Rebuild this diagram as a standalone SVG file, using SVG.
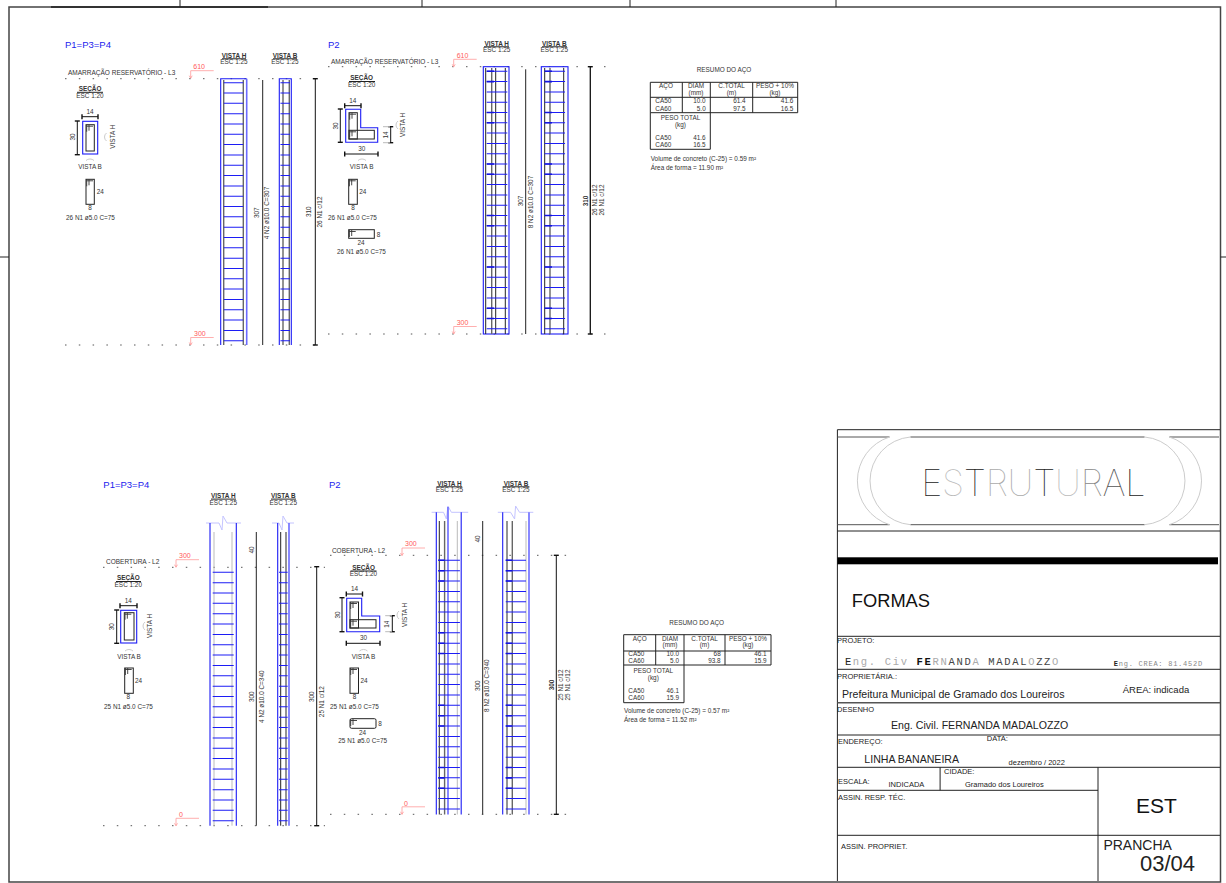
<svg xmlns="http://www.w3.org/2000/svg" width="1226" height="883" viewBox="0 0 1226 883">
<style>
text{font-family:"Liberation Sans",Arial,sans-serif;fill:#333;font-size:6.4px}
.m{text-anchor:middle}
.e{text-anchor:end}
.b{font-weight:bold}
.pt{font-size:9.5px;fill:#2222ee}
.lv{font-size:6.5px}
.red{font-size:7px;fill:#ff5a5a}
.lab{font-size:7.5px;fill:#222}
.big{font-size:10.6px;fill:#222}
.mono{font-family:"Liberation Mono",monospace}
.ln{fill:none;stroke:#222;stroke-width:1}
.bar{fill:none;stroke:#222;stroke-width:1}
.gb{fill:none;stroke:#666;stroke-width:1.4}
.lg{fill:none;stroke:#bbb;stroke-width:1}
.bl{fill:none;stroke:#1c1cf5;stroke-width:1.1}
.bl2{fill:none;stroke:#6a6aff;stroke-width:1.6}
.brk{fill:none;stroke:#c4c4ff;stroke-width:1}
.hv{fill:none;stroke:#1414e0;stroke-width:1.6}
.st{fill:none;stroke:#1c1cf5}
.dot{fill:none;stroke:#555;stroke-width:1;stroke-dasharray:1.5 12.3}
.rl{fill:none;stroke:#ff9a9a;stroke-width:.8}
.dim{fill:none;stroke:#111;stroke-width:1;marker-start:url(#t);marker-end:url(#t)}
.arc{fill:none;stroke:#ccc;stroke-width:1}
.tb{fill:none;stroke:#222;stroke-width:1}
.hk{fill:none;stroke:#333;stroke-width:.9}
</style>
<defs>
<marker id="t" markerUnits="userSpaceOnUse" markerWidth="6" markerHeight="6" refX="3" refY="3" orient="auto"><path d="M3,.5V5.5" stroke="#111" stroke-width="1.4"/></marker>
<path id="hook" class="hk" d="M.5,1.5H7M3,0V6M.7,0V7"/>
<path id="lv" class="rl" d="M0,0H23M0,0V7.5M-1.5,5L0,7.5L1.5,5"/>
</defs>

<g id="frame">
<rect x="9" y="7" width="1211.5" height="875" fill="none" stroke="#444" stroke-width="1.5"/>
<path d="M51,7H268" stroke="#333" stroke-width="2"/>
<path class="ln" d="M180,0V7M422,0V7M630,0V7M836,0V7M0,257H9M1220.5,257H1226"/>
</g>

<g id="connectors">
<path class="dot" d="M65,78.7H325M65,345H325M328,66.7H606M328,334H606M103,567.3H325M103,825.7H325M330,555.3H573M330,814.3H573"/>
<use href="#lv" x="190.7" y="70.7"/><use href="#lv" x="190.7" y="337.5"/>
<use href="#lv" x="453.7" y="59.3"/><use href="#lv" x="453.7" y="326.5"/>
<use href="#lv" x="176" y="559.7"/><use href="#lv" x="176" y="818.3"/>
<use href="#lv" x="402" y="548"/><use href="#lv" x="402" y="806.8"/>
</g>

<g id="p1-l3">
<text class="pt" x="65" y="47.7">P1=P3=P4</text>
<text class="lv" x="68" y="75.3">AMARRAÇÃO RESERVATÓRIO - L3</text>
<text class="red" x="193.3" y="69">610</text><text class="red" x="194" y="336">300</text>
<text class="m b" x="90" y="91">SEÇÃO</text><path class="ln" d="M77,92.3H103"/><text class="m" x="90" y="98.3">ESC 1:20</text>
<text class="m" x="90" y="114">14</text><path class="dim" d="M82,116.7H98"/>
<path class="dim" d="M77.3,121V154.7"/><text class="m" transform="rotate(-90 75.3 137)" x="75.3" y="137">30</text>
<rect class="bl" x="82.7" y="121.3" width="15" height="32.7"/>
<rect class="ln" x="86" y="124.7" width="8.3" height="26.3"/><use href="#hook" x="86" y="124.7"/>
<text class="m" transform="rotate(-90 114.7 136.7)" x="114.7" y="136.7">VISTA H</text><path class="arc" d="M106.5,133A5,5 0 0 0 106.5,141"/>
<text class="m" x="90" y="168.7">VISTA B</text><path class="arc" d="M86,160.5A6,6 0 0 1 94,160.5"/>
<rect class="ln" x="86" y="179.3" width="8.3" height="25"/><use href="#hook" x="86" y="179.3"/>
<text x="96.7" y="194.3">24</text><text class="m" x="90" y="210.3">8</text>
<text x="66" y="220.3">26 N1 ø5.0 C=75</text>
<text class="m b" x="234" y="57.8">VISTA H</text><path class="ln" d="M222,58.8H246"/><text class="m" x="234" y="64">ESC 1:25</text>
<text class="m b" x="285" y="57.8">VISTA B</text><path class="ln" d="M273,58.8H297"/><text class="m" x="285" y="64">ESC 1:25</text>
<path class="bl" d="M220.7,345V78.7H246.7"/><path class="bl2" d="M246.7,78.7V345"/>
<path class="gb" d="M223.7,80V345M243.3,80V345"/>
<path class="st" stroke-width="19.4" stroke-dasharray="1 9.32" d="M233.5,82.2V341.5"/>
<path class="bar" d="M262.7,80V345"/>
<text class="m" transform="rotate(-90 259.3 212.7)" x="259.3" y="212.7">307</text>
<text class="m" transform="rotate(-90 269.3 213)" x="269.3" y="213">4 N2 ø10.0 C=307</text>
<path class="bl" d="M279.3,345V78.7H291.3V345"/>
<path class="gb" d="M283,80V345M289.3,80V345"/>
<path class="st" stroke-width="9.5" stroke-dasharray="1 9.32" d="M285.2,82.2V341.5"/>
<path class="dim" d="M315.3,78.7V345"/>
<text class="m" transform="rotate(-90 311 211.7)" x="311" y="211.7">310</text>
<text class="m" transform="rotate(-90 322 212)" x="322" y="212">26 N1 c/12</text>
</g>

<g id="p2-l3">
<text class="pt" x="328" y="47.7">P2</text>
<text class="lv" x="331" y="63.7">AMARRAÇÃO RESERVATÓRIO - L3</text>
<text class="red" x="456.7" y="58">610</text><text class="red" x="456.7" y="325.3">300</text>
<text class="m b" x="361.7" y="80.3">SEÇÃO</text><path class="ln" d="M349,81.5H375"/><text class="m" x="361.7" y="86.7">ESC 1:20</text>
<text class="m" x="352.7" y="103">14</text><path class="dim" d="M344.7,105.7H361"/>
<path class="dim" d="M340.3,109V142.3"/><text class="m" transform="rotate(-90 338 126)" x="338" y="126">30</text>
<path class="bl" d="M345.7,109.3H360.7V127.7H377.7V142.3H345.7Z"/>
<rect class="ln" x="349" y="112.7" width="8.3" height="26.3"/><rect class="ln" x="349" y="130.3" width="25.3" height="8.7"/>
<use href="#hook" x="349" y="112.7"/><use href="#hook" x="349" y="130.3"/>
<path class="dim" d="M390.7,126.7V142.7"/><path class="lg" d="M383,126.7H390M383,142.7H390"/><text class="m" transform="rotate(-90 387.7 135)" x="387.7" y="135">14</text>
<text class="m" x="361.7" y="150.7">30</text><path class="dim" d="M344.7,154H378"/>
<text class="m" transform="rotate(-90 405.3 125)" x="405.3" y="125">VISTA H</text><path class="arc" d="M398,121A5,5 0 0 0 398,129"/>
<text class="m" x="361.7" y="168.7">VISTA B</text><path class="arc" d="M358,160.5A6,6 0 0 1 366,160.5"/>
<rect class="ln" x="348.7" y="179.3" width="8.6" height="25"/><use href="#hook" x="348.7" y="179.3"/>
<text x="359.3" y="194.3">24</text><text class="m" x="353" y="210.3">8</text>
<text x="328" y="220.3">26 N1 ø5.0 C=75</text>
<rect class="ln" x="348.7" y="229.7" width="25.6" height="8.6"/><use href="#hook" x="348.7" y="230"/>
<text x="376.7" y="236.5">8</text><text class="m" x="361" y="244.7">24</text>
<text x="337" y="254">26 N1 ø5.0 C=75</text>
<text class="m b" x="496.7" y="45.8">VISTA H</text><path class="ln" d="M484,46.8H509"/><text class="m" x="496.7" y="52">ESC 1:25</text>
<text class="m b" x="554.3" y="45.8">VISTA B</text><path class="ln" d="M542,46.8H567"/><text class="m" x="554.3" y="52">ESC 1:25</text>
<rect class="bl" x="483.3" y="66.7" width="25.7" height="267.3"/>
<path class="bar" d="M485.7,68V334M495.7,68V334M505.3,68V334"/><path class="gb" d="M491.7,68V334"/>
<path class="st" stroke-width="20.6" stroke-dasharray="1 9.3" d="M497,70.8V329.5"/>
<path class="hv" d="M486.7,71.3H494M486.7,81.6H494M486.7,112.5H494M486.7,122.8H494M486.7,164H494M486.7,174.3H494M486.7,215.5H494M486.7,225.8H494M486.7,267H494M486.7,308.2H494M486.7,318.5H494"/>
<path class="bar" d="M525.7,69.3V334"/>
<text class="m" transform="rotate(-90 522.7 201)" x="522.7" y="201">307</text>
<text class="m" transform="rotate(-90 532.7 202)" x="532.7" y="202">8 N2 ø10.0 C=307</text>
<rect class="bl" x="541.3" y="66.7" width="26.7" height="267.3"/>
<path class="bar" d="M544.7,68V334M563.7,68V334"/><path class="gb" d="M550,68V334"/>
<path class="st" stroke-width="20.5" stroke-dasharray="1 9.3" d="M554.8,70.8V329.5"/>
<path class="hv" d="M544.7,71.3H552M544.7,81.6H552M544.7,112.5H552M544.7,122.8H552M544.7,164H552M544.7,174.3H552M544.7,215.5H552M544.7,225.8H552M544.7,267H552M544.7,308.2H552M544.7,318.5H552"/>
<path class="dim" style="stroke-width:1.3" d="M590.3,66.7V334"/>
<text class="m b" transform="rotate(-90 587.7 201)" x="587.7" y="201">310</text>
<text class="m" transform="rotate(-90 597 200)" x="597" y="200">26 N1 c/12</text>
<text class="m" transform="rotate(-90 604.3 200)" x="604.3" y="200">26 N1 c/12</text>
</g>

<g id="resumo-l3">
<text class="m" x="724" y="72.3">RESUMO DO AÇO</text>
<path class="tb" d="M650.3,82.3H797.7V112.7H650.3ZM650.3,97.3H797.7M682.3,82.3V112.7M710.3,82.3V149.3M752.7,82.3V112.7M650.3,112.7V149.3H710.3"/>
<text class="m" x="666" y="88.3">AÇO</text><text class="m" x="696" y="88.3">DIAM</text><text class="m" x="696" y="95">(mm)</text>
<text class="m" x="731.5" y="88.3">C.TOTAL</text><text class="m" x="731.5" y="95">(m)</text>
<text class="m" x="775" y="88.3">PESO + 10%</text><text class="m" x="775" y="95">(kg)</text>
<text x="655.3" y="103.3">CA50</text><text x="655.3" y="110.7">CA60</text>
<text class="e" x="705.7" y="103.3">10.0</text><text class="e" x="705.7" y="110.7">5.0</text>
<text class="e" x="745.7" y="103.3">61.4</text><text class="e" x="745.7" y="110.7">97.5</text>
<text class="e" x="793.3" y="103.3">41.6</text><text class="e" x="793.3" y="110.7">16.5</text>
<text class="m" x="680.5" y="120">PESO TOTAL</text><text class="m" x="680.5" y="126.7">(kg)</text>
<text x="655.3" y="140">CA50</text><text x="655.3" y="147.3">CA60</text>
<text class="e" x="705.7" y="140">41.6</text><text class="e" x="705.7" y="147.3">16.5</text>
<text x="650.7" y="161">Volume de concreto (C-25) = 0.59 m²</text>
<text x="650.7" y="170">Área de forma = 11.90 m²</text>
</g>

<g id="p1-l2">
<text class="pt" x="103.3" y="488.3">P1=P3=P4</text>
<text class="lv" x="106" y="564">COBERTURA - L2</text>
<text class="red" x="179" y="558">300</text><text class="red" x="179" y="817">0</text>
<text class="m b" x="128.3" y="580.3">SEÇÃO</text><path class="ln" d="M116,581.5H141"/><text class="m" x="128.3" y="587">ESC 1:20</text>
<text class="m" x="128.3" y="603">14</text><path class="dim" d="M120,605.7H137"/>
<path class="dim" d="M116.7,610V643.3"/><text class="m" transform="rotate(-90 114 626.7)" x="114" y="626.7">30</text>
<rect class="bl" x="120.7" y="610.3" width="16" height="32.7"/>
<rect class="ln" x="124.3" y="612.7" width="9.7" height="27.3"/><use href="#hook" x="124.3" y="612.7"/>
<text class="m" transform="rotate(-90 152.3 626)" x="152.3" y="626">VISTA H</text><path class="arc" d="M145,622A5,5 0 0 0 145,630"/>
<text class="m" x="129" y="658.7">VISTA B</text><path class="arc" d="M125,651A6,6 0 0 1 133,651"/>
<rect class="ln" x="124.7" y="668" width="8.6" height="25.3"/><use href="#hook" x="124.7" y="668"/>
<text x="135" y="683.3">24</text><text class="m" x="128.3" y="699.3">8</text>
<text x="104" y="709.3">25 N1 ø5.0 C=75</text>
<text class="m b" x="223.3" y="498.1">VISTA H</text><path class="ln" d="M211,499.1H236"/><text class="m" x="223.3" y="504.7">ESC 1:25</text>
<text class="m b" x="283.3" y="498.1">VISTA B</text><path class="ln" d="M271,499.1H296"/><text class="m" x="283.3" y="504.7">ESC 1:25</text>
<path class="brk" d="M206,523H219L222,530L223,516L227,523H241"/>
<path class="bl" d="M210,523V825.7M236.3,523V825.7"/>
<path class="lg" d="M214,532V825.7M232,532V825.7"/>
<path class="st" stroke-width="21" stroke-dasharray="1 9.35" d="M223.2,571.8V821.5"/>
<path class="bar" d="M256.3,532V825.7"/>
<text class="m" transform="rotate(-90 254.3 550)" x="254.3" y="550">40</text>
<text class="m" transform="rotate(-90 254.3 696.7)" x="254.3" y="696.7">300</text>
<text class="m" transform="rotate(-90 263.7 696.7)" x="263.7" y="696.7">4 N2 ø10.0 C=340</text>
<path class="brk" d="M272,523H279L282,530L283,516L287,523H294"/>
<path class="bl" d="M277.7,523V825.7"/><path class="bl2" d="M289,523V825.7"/>
<path class="bar" d="M280.7,532V825.7"/><path class="gb" d="M286,532V825.7"/>
<path class="st" stroke-width="8.7" stroke-dasharray="1 9.35" d="M283.3,571.8V821.5"/>
<path class="dim" d="M316.7,566.7V825.7"/>
<text class="m" transform="rotate(-90 314.3 696.7)" x="314.3" y="696.7">300</text>
<text class="m" transform="rotate(-90 323.7 701.7)" x="323.7" y="701.7">25 N1 c/12</text>
</g>

<g id="p2-l2">
<text class="pt" x="329" y="488">P2</text>
<text class="lv" x="331.9" y="553">COBERTURA - L2</text>
<text class="red" x="405" y="546.3">300</text><text class="red" x="404" y="805.7">0</text>
<text class="m b" x="363.5" y="569.7">SEÇÃO</text><path class="ln" d="M350.5,571H376.5"/><text class="m" x="363.5" y="575.7">ESC 1:20</text>
<text class="m" x="354.6" y="591.3">14</text><path class="dim" d="M346.3,594H362.5"/>
<path class="dim" d="M342,597.7V631.7"/><text class="m" transform="rotate(-90 339.8 615)" x="339.8" y="615">30</text>
<path class="bl" d="M346.7,598.3H361.7V616H379.7V631.7H346.7Z"/>
<rect class="ln" x="350" y="602" width="8.5" height="26"/><rect class="ln" x="350" y="619.7" width="26" height="8.3"/>
<use href="#hook" x="350" y="602"/><use href="#hook" x="350" y="619.7"/>
<path class="dim" d="M392.3,615.7V631.7"/><path class="lg" d="M385.2,615.7H392M385.2,631.7H392"/><text class="m" transform="rotate(-90 388.6 624.3)" x="388.6" y="624.3">14</text>
<text class="m" x="363.5" y="640">30</text><path class="dim" d="M346.3,643.3H380"/>
<text class="m" transform="rotate(-90 406.9 615)" x="406.9" y="615">VISTA H</text><path class="arc" d="M399,611A5,5 0 0 0 399,619"/>
<text class="m" x="363.5" y="658.7">VISTA B</text><path class="arc" d="M359.5,651A6,6 0 0 1 367.5,651"/>
<rect class="ln" x="350" y="668" width="8.5" height="25.3"/><use href="#hook" x="350" y="668"/>
<text x="360.5" y="683.3">24</text><text class="m" x="354.6" y="699.3">8</text>
<text x="330" y="709.3">25 N1 ø5.0 C=75</text>
<rect class="ln" x="350" y="718.7" width="26" height="9.6" rx="1.5"/><use href="#hook" x="350" y="719"/>
<text x="378.3" y="725.5">8</text><text class="m" x="362.5" y="734.7">24</text>
<text x="338.3" y="742.7">25 N1 ø5.0 C=75</text>
<text class="m b" x="449.4" y="485.8">VISTA H</text><path class="ln" d="M436.5,486.8H462.2"/><text class="m" x="449.4" y="492.3">ESC 1:25</text>
<text class="m b" x="516" y="485.8">VISTA B</text><path class="ln" d="M502.7,486.8H529.4"/><text class="m" x="516" y="492.3">ESC 1:25</text>
<path class="brk" d="M431.6,512.3H443.5L446.4,519L447.9,506L451.4,512.3H468.2"/>
<path class="bl" d="M436.3,512.3V814.5M461.2,512.3V814.5"/>
<path class="bl2" d="M448,507V814.5"/>
<path class="bar" d="M439.3,521V814.5"/><path class="gb" d="M444.6,521V814.5"/><path class="lg" d="M457.3,521V814.5"/>
<path class="st" stroke-width="21.6" stroke-dasharray="1 9.36" d="M449.1,559.8V809.5"/>
<path class="hv" d="M438.3,560.3H444.4M438.3,570.7H444.4M438.3,581H444.4M438.3,632.8H444.4M438.3,643.2H444.4M438.3,653.5H444.4M438.3,705.3H444.4M438.3,715.7H444.4M438.3,726H444.4M438.3,767.5H444.4M438.3,777.9H444.4M438.3,788.2H444.4"/>
<path class="bar" d="M482.7,521V814.5"/>
<text class="m" transform="rotate(-90 480 539)" x="480" y="539">40</text>
<text class="m" transform="rotate(-90 480 685.7)" x="480" y="685.7">300</text>
<text class="m" transform="rotate(-90 488.6 685.7)" x="488.6" y="685.7">8 N2 ø10.0 C=340</text>
<path class="brk" d="M497.8,512.3H510.6L514.6,519L515.6,506L519.5,512.3H533.3"/>
<path class="bl" d="M502.7,512.3V814.5"/><path class="bl2" d="M529,512.3V814.5"/>
<path class="gb" d="M507,521V814.5M512.3,521V814.5"/><path class="lg" d="M526,521V814.5"/>
<path class="st" stroke-width="20.3" stroke-dasharray="1 9.36" d="M515.9,559.8V809.5"/>
<path class="hv" d="M505.7,560.3H512.1M505.7,570.7H512.1M505.7,581H512.1M505.7,632.8H512.1M505.7,643.2H512.1M505.7,653.5H512.1M505.7,705.3H512.1M505.7,715.7H512.1M505.7,726H512.1M505.7,767.5H512.1M505.7,777.9H512.1M505.7,788.2H512.1"/>
<path class="dim" d="M556.3,555.3V814.3"/>
<text class="m b" transform="rotate(-90 553.7 685)" x="553.7" y="685">300</text>
<text class="m" transform="rotate(-90 562.7 685)" x="562.7" y="685">25 N1 c/12</text>
<text class="m" transform="rotate(-90 570.3 685)" x="570.3" y="685">25 N1 c/12</text>
</g>

<g id="resumo-l2">
<text class="m" x="696.7" y="625">RESUMO DO AÇO</text>
<path class="tb" d="M623.7,634.7H771V665H623.7ZM623.7,651H771M655.7,634.7V665M684,634.7V702.7M725,634.7V665M623.7,665V702.7H684"/>
<text class="m" x="639.7" y="640.7">AÇO</text><text class="m" x="670" y="640.7">DIAM</text><text class="m" x="670" y="647.3">(mm)</text>
<text class="m" x="704.5" y="640.7">C.TOTAL</text><text class="m" x="704.5" y="647.3">(m)</text>
<text class="m" x="748" y="640.7">PESO + 10%</text><text class="m" x="748" y="647.3">(kg)</text>
<text x="628.3" y="655.7">CA50</text><text x="628.3" y="662.7">CA60</text>
<text class="e" x="679" y="655.7">10.0</text><text class="e" x="679" y="662.7">5.0</text>
<text class="e" x="720.7" y="655.7">68</text><text class="e" x="720.7" y="662.7">93.8</text>
<text class="e" x="766.7" y="655.7">46.1</text><text class="e" x="766.7" y="662.7">15.9</text>
<text class="m" x="653.3" y="672.7">PESO TOTAL</text><text class="m" x="653.3" y="680">(kg)</text>
<text x="628.3" y="693.3">CA50</text><text x="628.3" y="700">CA60</text>
<text class="e" x="679" y="693.3">46.1</text><text class="e" x="679" y="700">15.9</text>
<text x="624" y="713.3">Volume de concreto (C-25) = 0.57 m²</text>
<text x="624" y="722.3">Área de forma = 11.52 m²</text>
</g>

<g id="carimbo">
<path class="tb" d="M837.4,429.7H1220M837.4,429.7V881M837.4,531H1220M837.4,636.3H1220M837.4,669.3H1220M837.4,735H1220M837.4,767.3H1220M837.4,790.3H1098M940.1,767.3V790.3M1098,767.3V881M837.4,835.3H1220"/>
<path d="M837.4,702.7H1220" stroke="#555" stroke-width="1.5"/>
<path d="M837.4,437H889.5M910.4,437H1144.6M1169.4,437H1219M837.4,524.7H889.5M910.4,524.7H1144.6M1169.4,524.7H1219" fill="none" stroke="#555" stroke-width="1"/>
<path class="arc" d="M889.5,437A46,46 0 0 0 889.5,524.7M910.4,437A44,44 0 0 0 910.4,524.7M1144.6,437A44,44 0 0 1 1144.6,524.7M1169.4,437A46,46 0 0 1 1169.4,524.7"/>
<rect x="837.4" y="557.3" width="380.6" height="7" fill="#000"/>
<text x="921.3" y="496" textLength="224.3" style="font-family:Inter,'Liberation Sans',sans-serif;font-size:36px;font-weight:100;fill:#222"><tspan>E</tspan><tspan style="fill:#bbb">S</tspan><tspan>T</tspan><tspan style="fill:#aaa">RU</tspan><tspan>T</tspan><tspan style="fill:#bbb">U</tspan><tspan style="fill:#888">R</tspan><tspan style="fill:#555">A</tspan><tspan>L</tspan></text>
<text x="851.8" y="606.7" style="font-size:18.3px;fill:#111">FORMAS</text>
<text class="lab" x="837" y="642.7">PROJETO:</text>
<text class="mono" x="844.9" y="664.7" textLength="213.5" style="font-size:10.5px;fill:#aaa"><tspan style="fill:#222">E</tspan>ng. Civ <tspan style="fill:#111;font-weight:bold">FE</tspan>RN<tspan style="fill:#444">AND</tspan>A <tspan style="fill:#444">MADAL</tspan>O<tspan style="fill:#444">ZZ</tspan>O</text>
<text class="mono" x="1113.8" y="666" textLength="88.3" style="font-size:7px;fill:#888"><tspan style="fill:#222;font-weight:bold">E</tspan>ng. CREA: 81.452D</text>
<text class="lab" x="837" y="679.3">PROPRIETÁRIA.:</text>
<text class="big" x="841.9" y="697.7">Prefeitura Municipal de Gramado dos Loureiros</text>
<text x="1122.7" y="692.7" style="font-size:9.5px;fill:#222">ÁREA: indicada</text>
<text class="lab" x="837" y="712.3">DESENHO</text>
<text class="big" x="891" y="729">Eng. Civil. FERNANDA MADALOZZO</text>
<text class="lab" x="838" y="744.3">ENDEREÇO:</text>
<text class="lab" x="986.8" y="741">DATA:</text>
<text class="big" x="864.3" y="763.3">LINHA BANANEIRA</text>
<text class="lab" x="1008.6" y="765">dezembro / 2022</text>
<text class="lab" x="944" y="774">CIDADE:</text>
<text class="lab" x="838" y="784">ESCALA:</text>
<text class="lab" x="888.5" y="786.7">INDICADA</text>
<text class="lab" x="965" y="787">Gramado dos Loureiros</text>
<text class="lab" x="838" y="800">ASSIN. RESP. TÉC.</text>
<text class="lab" x="841" y="849">ASSIN. PROPRIET.</text>
<text x="1136" y="812.7" style="font-size:21px;fill:#111">EST</text>
<text x="1103.4" y="850" style="font-size:14px;fill:#222">PRANCHA</text>
<text x="1140" y="871" style="font-size:22px;fill:#222">03/04</text>
</g>
</svg>
